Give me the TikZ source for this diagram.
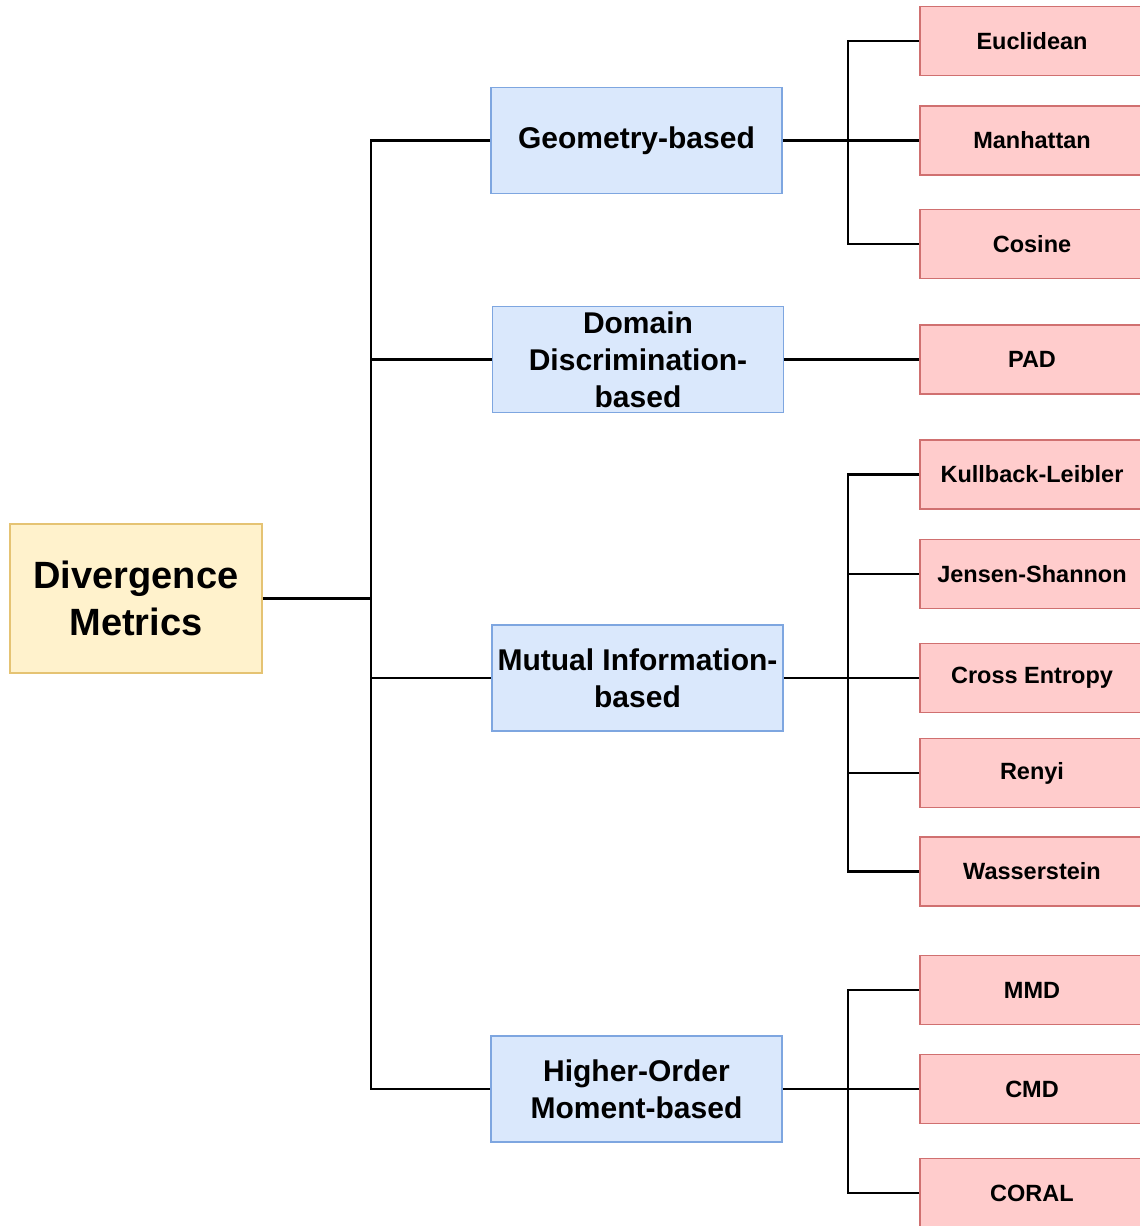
\documentclass[tikz,border=0pt]{standalone}
\usepackage{fontspec}
\setmainfont{Liberation Sans}
\definecolor{rootfill}{HTML}{FFF2CC}
\definecolor{rootline}{HTML}{E5C373}
\definecolor{catfill}{HTML}{DAE8FC}
\definecolor{catline}{HTML}{7EA6E0}
\definecolor{leaffill}{HTML}{FFCCCC}
\definecolor{leafline}{HTML}{D07070}
\begin{document}
\begin{tikzpicture}[x=1pt, y=-1pt,
  rootbox/.style={draw=rootline, fill=rootfill, line width=1.6pt,
    minimum width=252pt, minimum height=149pt, inner sep=0pt, align=center,
    font=\fontsize{38}{47}\selectfont\bfseries},
  catbox/.style={draw=catline, fill=catfill, line width=1.6pt,
    minimum width=291pt, minimum height=106pt, inner sep=0pt, align=center,
    font=\fontsize{30}{37}\selectfont\bfseries},
  leafbox/.style={draw=leafline, fill=leaffill, line width=1.6pt,
    minimum width=224pt, minimum height=69pt, inner sep=0pt, align=center,
    font=\fontsize{23.5}{28}\selectfont\bfseries},
  link/.style={draw=black, line width=2.4pt}]
\path[use as bounding box, clip] (0,0) rectangle (1140,1226);
\fill[white] (0,0) rectangle (1140,1226);

% root
\node[rootbox] (root) at (136,598.5) {Divergence\\Metrics};

% categories
\node[catbox] (geo) at (636.5,140.5) {Geometry-based};
\node[catbox] (dom) at (638,359.5) {Domain\\Discrimination-\\based};
\node[catbox] (mut) at (637.5,678) {Mutual Information-\\based};
\node[catbox] (hom) at (636.5,1089) {Higher-Order\\Moment-based};

% leaves
\node[leafbox] (euc) at (1032,41)   {Euclidean};
\node[leafbox] (man) at (1032,140.5){Manhattan};
\node[leafbox] (cos) at (1032,244)  {Cosine};
\node[leafbox] (pad) at (1032,359.5){PAD};
\node[leafbox] (kl)  at (1032,474.5){Kullback-Leibler};
\node[leafbox] (js)  at (1032,574)  {Jensen-Shannon};
\node[leafbox] (ce)  at (1032,678)  {Cross Entropy};
\node[leafbox] (ren) at (1032,773)  {Renyi};
\node[leafbox] (was) at (1032,871.5){Wasserstein};
\node[leafbox] (mmd) at (1032,990)  {MMD};
\node[leafbox] (cmd) at (1032,1089) {CMD};
\node[leafbox] (cor) at (1032,1193) {CORAL};

% junction points
\coordinate (trunk) at (371,598.5);
\coordinate (jgeo) at (848,140.5);
\coordinate (jmut) at (848,678);
\coordinate (jhom) at (848,1089);

% root to categories
\draw[link] (root.east) -- (trunk);
\draw[link] (geo.west) -| (trunk);
\draw[link] (dom.west) -| (trunk);
\draw[link] (mut.west) -| (trunk);
\draw[link] (hom.west) -| (trunk);

% categories to leaves
\draw[link] (geo.east) -- (jgeo);
\draw[link] (euc.west) -| (jgeo);
\draw[link] (man.west) -| (jgeo);
\draw[link] (cos.west) -| (jgeo);

\draw[link] (dom.east) -- (pad.west);

\draw[link] (mut.east) -- (jmut);
\draw[link] (kl.west) -| (jmut);
\draw[link] (js.west) -| (jmut);
\draw[link] (ce.west) -| (jmut);
\draw[link] (ren.west) -| (jmut);
\draw[link] (was.west) -| (jmut);

\draw[link] (hom.east) -- (jhom);
\draw[link] (mmd.west) -| (jhom);
\draw[link] (cmd.west) -| (jhom);
\draw[link] (cor.west) -| (jhom);
\end{tikzpicture}
\end{document}
